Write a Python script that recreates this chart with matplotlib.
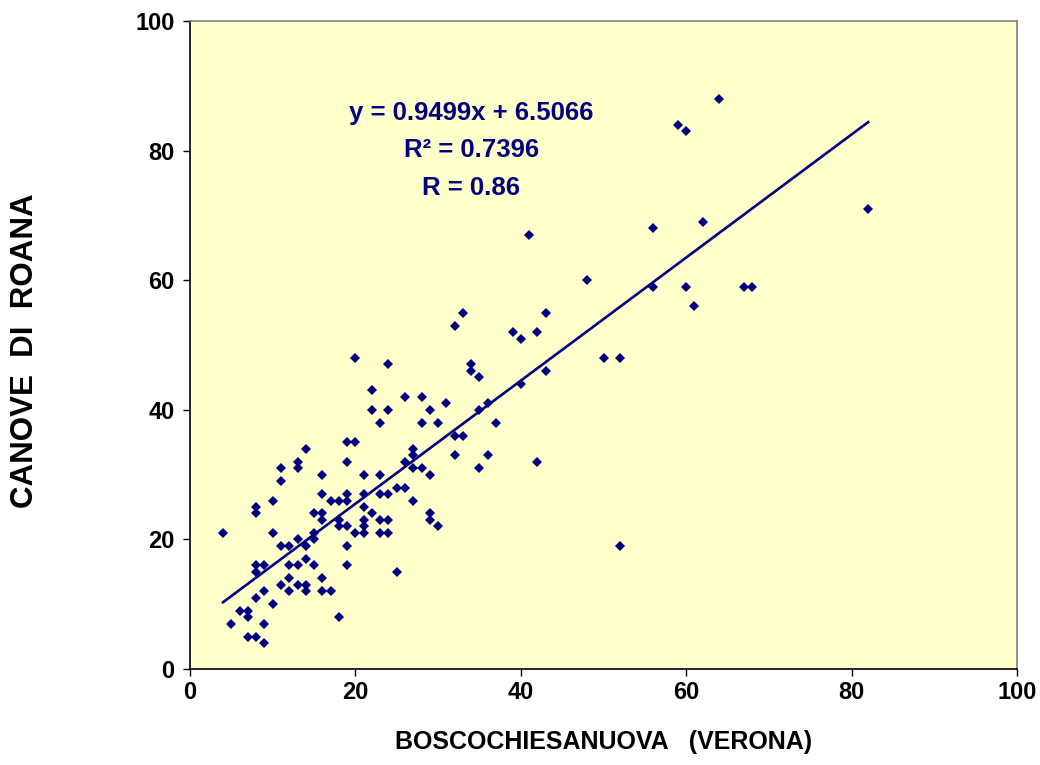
'''
Canove di Roana vs Boscochiesanuova scatter with linear trend
'''

import matplotlib
matplotlib.use('Agg')
import matplotlib.pyplot as plt

boscochiesanuova = [4, 5, 6, 7, 7, 7, 8, 9, 9, 8, 9, 10, 8, 8, 9, 8, 8, 10, 10, 11,
                    11, 11, 11, 12, 12, 12, 12, 13, 13, 13, 13, 13, 14, 14, 14, 14, 14, 15, 15, 15,
                    15, 16, 16, 16, 16, 16, 16, 17, 17, 18, 18, 18, 18, 19, 19, 19, 19, 19, 19, 19,
                    20, 20, 20, 21, 21, 21, 21, 21, 21, 22, 22, 22, 23, 23, 23, 23, 23, 24, 24, 24,
                    24, 24, 25, 25, 26, 26, 26, 27, 27, 27, 27, 28, 28, 28, 29, 29, 29, 29, 30, 30,
                    31, 32, 32, 32, 33, 33, 34, 34, 35, 35, 35, 36, 36, 37, 39, 40, 40, 41, 42, 42,
                    43, 43, 48, 50, 52, 52, 56, 56, 59, 60, 60, 61, 62, 64, 67, 68, 82]
canove = [21, 7, 9, 9, 8, 5, 5, 4, 7, 11, 12, 10, 15, 16, 16, 24, 25, 21, 26, 19,
          13, 29, 31, 19, 16, 14, 12, 13, 16, 20, 31, 32, 34, 19, 17, 13, 12, 20, 21, 16,
          24, 24, 23, 27, 30, 14, 12, 12, 26, 26, 22, 23, 8, 35, 32, 27, 26, 22, 19, 16,
          48, 35, 21, 30, 27, 25, 23, 22, 21, 43, 40, 24, 38, 30, 27, 23, 21, 47, 40, 27,
          23, 21, 28, 15, 42, 32, 28, 34, 33, 31, 26, 42, 38, 31, 40, 30, 24, 23, 38, 22,
          41, 53, 36, 33, 55, 36, 47, 46, 45, 40, 31, 41, 33, 38, 52, 51, 44, 67, 52, 32,
          55, 46, 60, 48, 48, 19, 68, 59, 84, 83, 59, 56, 69, 88, 59, 59, 71]

slope = 0.9499
intercept = 6.5066
r2 = 0.7396
r = 0.86

navy = '#000080'

def main():
    plt.rcParams['font.family'] = ['Liberation Sans', 'DejaVu Sans']
    plt.rcParams['font.weight'] = 'bold'

    fig = plt.figure(figsize=(10.4, 7.65), dpi=100)
    ax = fig.add_axes([0.1827, 0.1255, 0.7952, 0.847])
    ax.set_facecolor('#FFFFCC')

    ax.plot(boscochiesanuova, canove, 'D', color=navy, markersize=5.2,
            markeredgewidth=0, zorder=3)

    x0, x1 = min(boscochiesanuova), max(boscochiesanuova)
    ax.plot([x0, x1], [slope * x0 + intercept, slope * x1 + intercept],
            '-', color=navy, linewidth=1.9, zorder=2)

    ax.text(34, 85.8, 'y = %.4fx + %.4f' % (slope, intercept), color=navy,
            fontsize=18.5, fontweight='bold', ha='center', va='center')
    ax.text(34, 80.1, 'R\u00b2 = %.4f' % r2, color=navy,
            fontsize=18.5, fontweight='bold', ha='center', va='center')
    ax.text(34, 74.2, 'R = %.2f' % r, color=navy,
            fontsize=18.5, fontweight='bold', ha='center', va='center')

    ax.set_xlim(0, 100)
    ax.set_ylim(0, 100)
    ax.set_xticks(range(0, 101, 20))
    ax.set_yticks(range(0, 101, 20))
    ax.tick_params(direction='out', length=5, width=1, labelsize=17)
    ax.tick_params(axis='x', pad=4)
    ax.tick_params(axis='y', pad=6)
    for lab in ax.get_xticklabels() + ax.get_yticklabels():
        lab.set_fontweight('bold')

    ax.spines['left'].set_color('black')
    ax.spines['bottom'].set_color('black')
    ax.spines['top'].set_color('#808080')
    ax.spines['right'].set_color('#808080')
    for s in ax.spines.values():
        s.set_linewidth(1.2)

    fig.text(0.5803, 0.030, 'BOSCOCHIESANUOVA   (VERONA)', fontsize=18,
             fontweight='bold', ha='center', va='center')
    fig.text(0.0245, 0.541, 'CANOVE  DI  ROANA', rotation=90, fontsize=22.5,
             fontweight='bold', ha='center', va='center')

    fig.savefig('out.png', dpi=100)

if __name__ == '__main__':
    main()
